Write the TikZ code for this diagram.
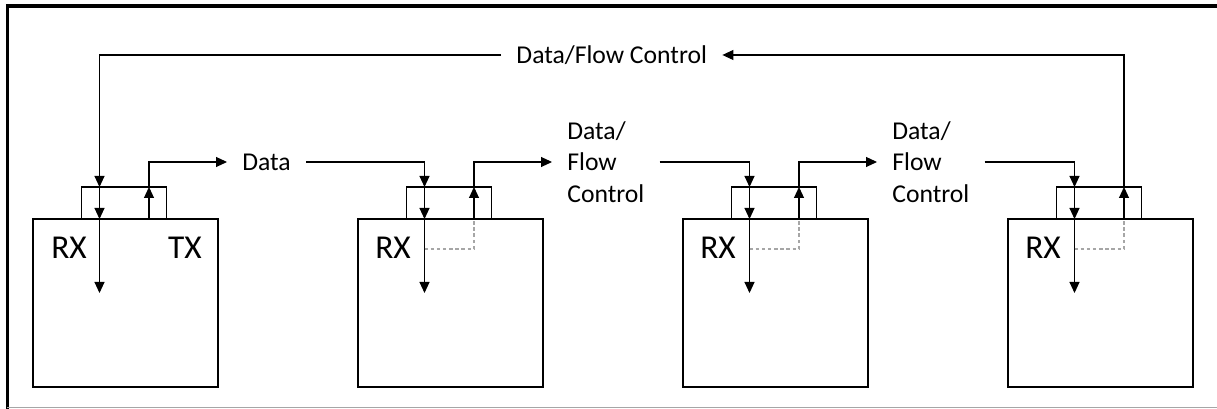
\documentclass[tikz,border=0pt]{standalone}
\usepackage{fontspec}
\setmainfont{Carlito}
\usetikzlibrary{positioning,arrows.meta,calc}

\begin{document}
\begin{tikzpicture}[
  node distance=2.8cm,
  >={Triangle[length=0.22cm, width=0.2cm]},
  unit/.style={rectangle, draw, line width=0.9pt, minimum width=3.7cm, minimum height=3.36cm, inner sep=0pt, outer sep=0pt},
  port/.style={rectangle, draw, line width=0.9pt, minimum width=1.7cm, minimum height=0.64cm, inner sep=0pt, outer sep=0pt},
  lbl/.style={font=\fontsize{14.6}{17.9}\selectfont, align=left, inner xsep=0.3cm, inner ysep=0pt},
  side/.style={font=\fontsize{19}{22}\selectfont, inner sep=0pt},
  arr/.style={->, line width=0.6pt},
  bypass/.style={gray!70, line width=0.6pt, dash pattern=on 2pt off 1.5pt},
]
\useasboundingbox (0,0) rectangle (24.34,8.18);

% === Frame ===
\draw[line width=2.3pt] (0.12,8.06) -- (24.34,8.06);
\draw[line width=1.7pt] (0.15,0) -- (0.15,8.1);
\draw[gray!70, line width=0.6pt] (0.15,0.03) -- (24.34,0.03);

% === Units ===
\node[unit, anchor=north west] (box1) at (0.66,3.8) {};
\node[unit, right=of box1] (box2) {};
\node[unit, right=of box2] (box3) {};
\node[unit, right=of box3] (box4) {};

% Ports on top
\node[port, anchor=south west] (port1) at ([xshift=0.97cm]box1.north west) {};
\node[port, anchor=south west] (port2) at ([xshift=0.97cm]box2.north west) {};
\node[port, anchor=south west] (port3) at ([xshift=0.97cm]box3.north west) {};
\node[port, anchor=south west] (port4) at ([xshift=0.97cm]box4.north west) {};

% RX / TX lanes
\coordinate (rx1) at ([xshift=1.33cm]box1.north west);
\coordinate (tx1) at ([xshift=2.32cm]box1.north west);
\coordinate (rx2) at ([xshift=1.33cm]box2.north west);
\coordinate (tx2) at ([xshift=2.32cm]box2.north west);
\coordinate (rx3) at ([xshift=1.33cm]box3.north west);
\coordinate (tx3) at ([xshift=2.32cm]box3.north west);
\coordinate (rx4) at ([xshift=1.33cm]box4.north west);
\coordinate (tx4) at ([xshift=2.32cm]box4.north west);
\coordinate (rx1end) at ([yshift=-1.48cm]rx1);
\coordinate (rx2end) at ([yshift=-1.48cm]rx2);
\coordinate (rx3end) at ([yshift=-1.48cm]rx3);
\coordinate (rx4end) at ([yshift=-1.48cm]rx4);

% Labels inside units
\node[side, anchor=base west] (rxl1) at ([shift={(0.36cm,-0.8cm)}]box1.north west) {RX};
\node[side, anchor=base east] (txl1) at ([shift={(-0.32cm,-0.8cm)}]box1.north east) {TX};
\node[side, anchor=base west] (rxl2) at ([shift={(0.34cm,-0.8cm)}]box2.north west) {RX};
\node[side, anchor=base west] (rxl3) at ([shift={(0.34cm,-0.8cm)}]box3.north west) {RX};
\node[side, anchor=base west] (rxl4) at ([shift={(0.34cm,-0.8cm)}]box4.north west) {RX};

% Link labels
\node[lbl, anchor=west] (data1) at ([shift={(1.56cm,1.14cm)}]tx1) {Data};
\node[lbl, anchor=west] (data2) at ([shift={(1.56cm,1.14cm)}]tx2) {Data/\\Flow\\Control};
\node[lbl, anchor=west] (data3) at ([shift={(1.56cm,1.14cm)}]tx3) {Data/\\Flow\\Control};
\node[lbl] (topflow) at ($(rx1)!0.5!(tx4)+(0,3.28)$) {Data/Flow Control};

% === Receive lanes ===
\draw[arr] (topflow.west) -| (rx1 |- port1.north);
\draw[arr] (data1.east) -| (rx2 |- port2.north);
\draw[arr] (data2.east) -| (rx3 |- port3.north);
\draw[arr] (data3.east) -| (rx4 |- port4.north);
\draw[arr] (rx1 |- port1.north) -- (rx1);
\draw[arr] (rx2 |- port2.north) -- (rx2);
\draw[arr] (rx3 |- port3.north) -- (rx3);
\draw[arr] (rx4 |- port4.north) -- (rx4);
\draw[arr] (rx1) -- (rx1end);
\draw[arr] (rx2) -- (rx2end);
\draw[arr] (rx3) -- (rx3end);
\draw[arr] (rx4) -- (rx4end);

% === Transmit lanes ===
\draw[arr] (tx1) -- (tx1 |- port1.north);
\draw[arr] (tx2) -- (tx2 |- port2.north);
\draw[arr] (tx3) -- (tx3 |- port3.north);
\draw[arr] (tx4) -- (tx4 |- port4.north);
\draw[arr] (tx1 |- port1.north) |- (data1.west);
\draw[arr] (tx2 |- port2.north) |- (data2.west);
\draw[arr] (tx3 |- port3.north) |- (data3.west);
\draw[arr] (tx4 |- port4.north) |- (topflow.east);

% Forwarding inside units
\draw[bypass] ([yshift=-0.6cm]rx2) -| (tx2);
\draw[bypass] ([yshift=-0.6cm]rx3) -| (tx3);
\draw[bypass] ([yshift=-0.6cm]rx4) -| (tx4);

\end{tikzpicture}
\end{document}
